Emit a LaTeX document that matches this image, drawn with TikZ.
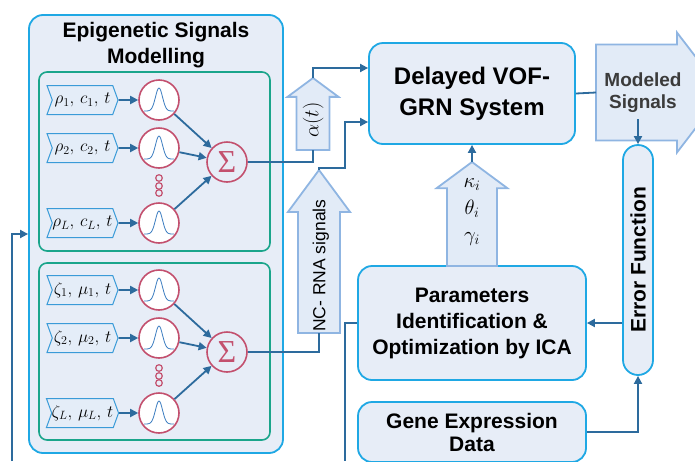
\documentclass[tikz,border=0pt]{standalone}
\usepackage{fontspec}
\setmainfont{Liberation Sans}
\newfontfamily\sigmafont{Liberation Serif}
\usetikzlibrary{positioning}
\usetikzlibrary{shapes.arrows}
\usetikzlibrary{shapes.symbols}
\usetikzlibrary{arrows.meta}

\definecolor{panelline}{HTML}{1FA8E4}
\definecolor{panelfill}{HTML}{E7EDF7}
\definecolor{groupline}{HTML}{1AA58B}
\definecolor{tagline}{HTML}{3A9BD8}
\definecolor{tagfill}{HTML}{E4EDF8}
\definecolor{ringred}{HTML}{C3506E}
\definecolor{bellblue}{HTML}{3A7CC0}
\definecolor{flowblue}{HTML}{2D6B9D}
\definecolor{fatline}{HTML}{8FB5E2}
\definecolor{fatfill}{HTML}{E2EBF7}
\definecolor{darktext}{HTML}{3B3B3B}

\begin{document}
\begin{tikzpicture}[x=1pt, y=-1pt,
    panelbox/.style={rectangle, rounded corners=14pt, draw=panelline, line width=1.8pt, fill=panelfill},
    stagebox/.style={rectangle, rounded corners=14pt, draw=panelline, line width=1.8pt, fill=panelfill, align=center, font=\fontsize{21}{26}\selectfont\bfseries},
    groupbox/.style={rectangle, rounded corners=8pt, draw=groupline, line width=1.6pt},
    tagbox/.style={signal, signal from=west, signal to=east, signal pointer angle=140, draw=tagline, fill=tagfill, line width=1pt, minimum width=71pt, minimum height=29pt, inner sep=0pt, font=\fontsize{16.5}{16.5}\selectfont},
    gaussnode/.style={circle, draw=ringred, line width=1.6pt, fill=white, minimum size=40pt, inner sep=0pt},
    sumnode/.style={circle, draw=ringred, line width=1.6pt, fill=panelfill, minimum size=40pt, inner sep=0pt, text=ringred, font=\fontsize{32}{32}\sigmafont},
    bell/.style={draw=bellblue, line width=0.8pt},
    dotring/.style={draw=ringred, line width=1.2pt},
    flow/.style={draw=flowblue, line width=1.8pt, -{Triangle[length=8pt, width=8pt]}},
    link/.style={draw=flowblue, line width=1.8pt},
    fatarrow/.style={single arrow, draw=fatline, fill=fatfill, line width=1.8pt, inner sep=0pt, outer sep=0pt}
]
\useasboundingbox (0,0) rectangle (695,461);
\clip (0,0) rectangle (695,461);

% Epigenetic signals panel
\node[panelbox, minimum width=254pt, minimum height=438pt] (epi) at (156,234) {};
\node[align=center, font=\fontsize{21}{26}\selectfont\bfseries, anchor=north] (epititle) at (156,19) {Epigenetic Signals\\Modelling};
\node[groupbox, minimum width=231pt, minimum height=179pt] (grpa) at (154.5,161.5) {};
\node[groupbox, minimum width=231pt, minimum height=177pt] (grpb) at (154.5,351.5) {};

% first group
\node[sumnode] (suma) at (227,162) {Σ};
\foreach \n/\y/\txt in {1/100/{$\rho_1,\, c_1,\, t$}, 2/148/{$\rho_2,\, c_2,\, t$}, 3/223/{$\rho_L,\, c_L,\, t$}} {
    \node[tagbox] (taga\n) at (82.5,\y) {\txt};
    \node[gaussnode] (gaussa\n) at (159,\y) {};
    \draw[bell, shift={(gaussa\n.center)}] plot[domain=-15:15, samples=41, smooth] (\x, {11-23*exp(-(\x/5)^2)});
    \draw[flow] (taga\n) -- (gaussa\n);
    \draw[flow] (gaussa\n) -- (suma);
}
\foreach \y in {178,186,193} \draw[dotring] (159,\y) circle (3.3);

% second group
\node[sumnode] (sumb) at (227,352) {Σ};
\foreach \n/\y/\txt in {1/290/{$\zeta_1,\, \mu_1,\, t$}, 2/338/{$\zeta_2,\, \mu_2,\, t$}, 3/413/{$\zeta_L,\, \mu_L,\, t$}} {
    \node[tagbox] (tagb\n) at (82.5,\y) {\txt};
    \node[gaussnode] (gaussb\n) at (159,\y) {};
    \draw[bell, shift={(gaussb\n.center)}] plot[domain=-15:15, samples=41, smooth] (\x, {11-23*exp(-(\x/5)^2)});
    \draw[flow] (tagb\n) -- (gaussb\n);
    \draw[flow] (gaussb\n) -- (sumb);
}
\foreach \y in {368,376,383} \draw[dotring] (159,\y) circle (3.3);

% Stages
\node[stagebox, font=\fontsize{24}{31}\selectfont\bfseries, minimum width=206pt, minimum height=101pt] (delay) at (472,93.5) {Delayed VOF-\\GRN System};
\node[stagebox, minimum width=228pt, minimum height=114pt] (params) at (472,323) {Parameters\\Identification \&\\Optimization by ICA};
\node[stagebox, font=\fontsize{21}{23}\selectfont\bfseries, minimum width=228pt, minimum height=60pt] (gene) at (472,432) {Gene Expression\\Data};
\node[stagebox, rotate=90, rounded corners=15pt, minimum width=230pt, minimum height=30pt, inner sep=0pt] (error) at (638,260) {Error Function};

% Block arrows
\node[fatarrow, rotate=90, anchor=tail, minimum height=72pt, minimum width=51pt, single arrow tip angle=107, text height=17.25pt, text depth=6.75pt, font=\fontsize{21}{21}\selectfont] (alpha) at (313,150) {$\alpha(t)$};
\node[fatarrow, rotate=90, anchor=tail, minimum height=163pt, minimum width=62pt, single arrow tip angle=73, text height=20.3pt, text depth=7.7pt, font=\fontsize{17.5}{17.5}\selectfont] (ncrna) at (319,333) {NC- RNA signals};
\node[fatarrow, rotate=90, anchor=tail, minimum height=104pt, minimum width=71pt, single arrow tip angle=107, text height=32pt, text depth=0pt] (kappa) at (472,266) {};
\node[align=center, font=\fontsize{20}{27}\selectfont] (kappatext) at (472,212) {$\kappa_i$\\$\theta_i$\\$\gamma_i$};
\node[fatarrow, anchor=tail, minimum height=127pt, minimum width=120pt, single arrow tip angle=105, text height=55pt, text depth=0pt] (modeled) at (596,92.5) {};
\node[align=center, text=darktext, font=\fontsize{19}{22}\selectfont\bfseries] (modeledtext) at (643,93) {Modeled\\Signals};

\coordinate (leftfoot) at (12,461);
\coordinate (midfoot) at (345,461);

% Flows
\draw[link] (suma.east) -| (alpha.tail);
\draw[flow] (alpha.tip) |- ([yshift=25.5pt]delay.west);
\draw[link] (sumb.east) -| (ncrna.tail);
\draw[flow] (ncrna.tip) |- (345,168) |- ([yshift=-28.5pt]delay.west);
\draw[link] (delay.east) -- (modeled.tail);
\draw[flow] ([yshift=25pt]error.east) -- (error.east);
\draw[flow] (error.north |- params.east) -- (params.east);
\draw[flow] (gene.east) -| (error.west);
\draw[flow] (kappa.tip) -- (delay.south);
\draw[link] (params.west) -| (midfoot);
\draw[flow] (leftfoot) |- (epi.west);

\end{tikzpicture}
\end{document}
